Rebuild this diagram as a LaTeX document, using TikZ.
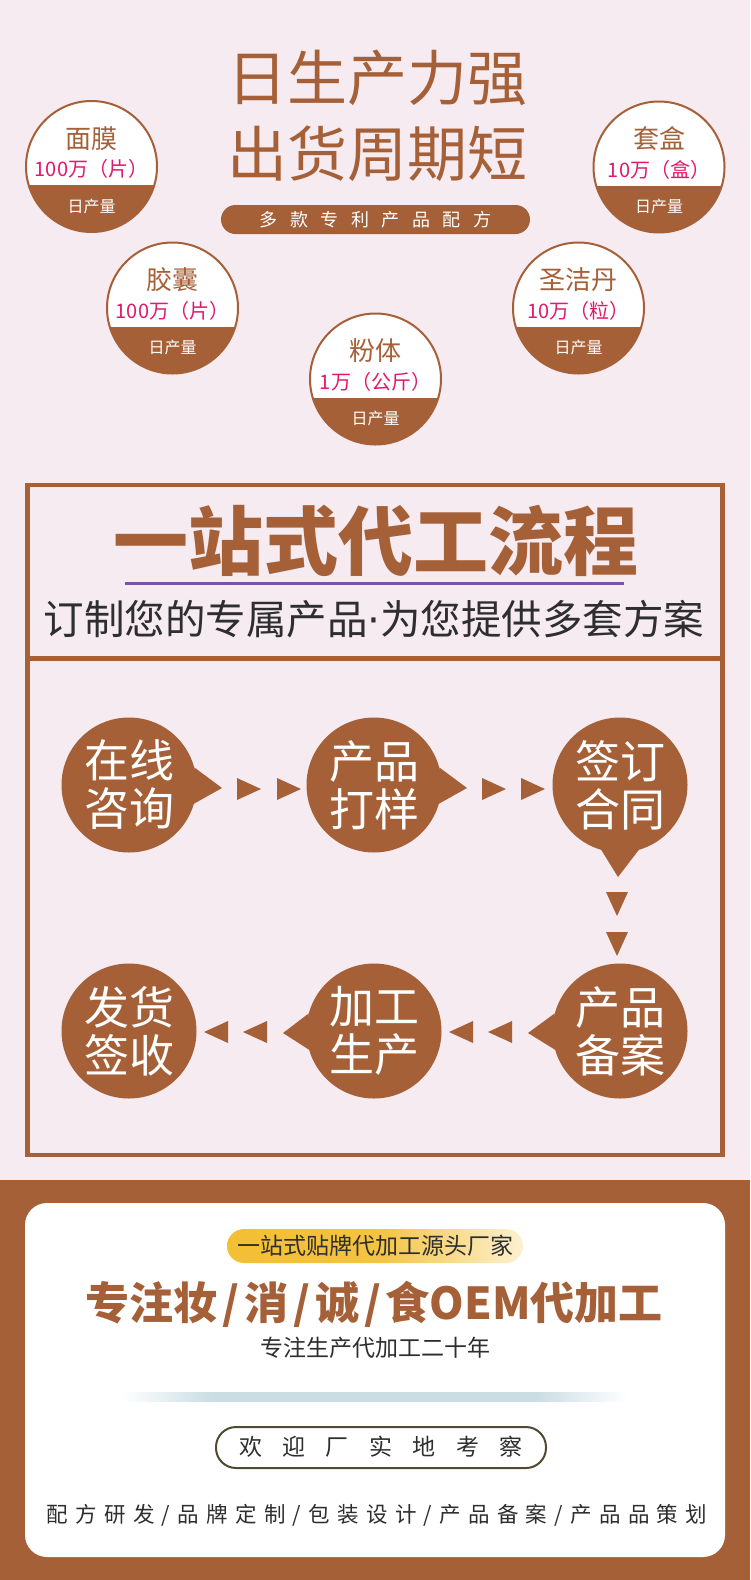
\documentclass[tikz,border=0pt]{standalone}
\usepackage{fontspec}
\setmainfont{Noto Sans CJK SC}
\newfontfamily\dejavu{DejaVu Sans}
\usetikzlibrary{calc}
\definecolor{bgpink}{HTML}{F6EBF1}
\definecolor{brn}{HTML}{A66038}
\definecolor{pnk}{HTML}{E2186C}
\definecolor{ink}{HTML}{2E2E2E}
\definecolor{purp}{HTML}{7C52A8}
\definecolor{olive}{HTML}{4F4B30}
\definecolor{gold}{HTML}{F3BF33}
\definecolor{paleg}{HTML}{FCF1D0}
\definecolor{mist}{HTML}{CADDE3}
\pgfdeclarehorizontalshading{mistline}{100bp}{color(0bp)=(white); color(25bp)=(white); color(34bp)=(mist); color(66bp)=(mist); color(75bp)=(white); color(100bp)=(white)}
\newcommand\setfs[1]{\fontsize{#1}{#1}\selectfont}
\newcommand\spaced[2]{\def\mysgap{#1}\spacedA#2\relax\relax}
\def\spacedA#1#2{#1\ifx\relax#2\else\hspace{\mysgap}\expandafter\spacedA\expandafter#2\fi}
\newcommand\prodcircle[5]{%
  \node[circle, minimum size=131pt, inner sep=0pt, fill=white] (#1) at (#2,#3) {};
  \begin{scope}
    \clip (#1.center) circle[radius=65.5pt];
    \fill[brn] ($(#1.center)+(-70,18.5)$) rectangle ($(#1.center)+(70,80)$);
  \end{scope}
  \draw[brn, line width=2pt] (#1.center) circle[radius=65.5pt];
  \node[text=brn, font=\setfs{26}] (#1-t) at ($(#1.center)+(0,-28)$) {#4};
  \node[text=pnk, font=\setfs{20}] (#1-a) at ($(#1.center)+(0,2.5)$) {#5};
  \node[text=white, font=\setfs{16}] (#1-d) at ($(#1.center)+(0,39.5)$) {日产量};
}
\newcommand\rtri[2]{\fill[brn] ($(#1,#2)+(-12,-11)$) -- ($(#1,#2)+(12,0)$) -- ($(#1,#2)+(-12,11)$) -- cycle;}
\newcommand\ltri[2]{\fill[brn] ($(#1,#2)+(12,-11)$) -- ($(#1,#2)+(-12,0)$) -- ($(#1,#2)+(12,11)$) -- cycle;}
\newcommand\dtri[2]{\fill[brn] ($(#1,#2)+(-11,-12)$) -- ($(#1,#2)+(0,12)$) -- ($(#1,#2)+(11,-12)$) -- cycle;}
\tikzset{
  proc/.style={circle, fill=brn, minimum size=135pt, inner sep=0pt, text=white, align=center, font=\fontsize{45}{48}\selectfont},
}
\begin{document}
\begin{tikzpicture}[x=1pt, y=-1pt]
\useasboundingbox (0,0) rectangle (750,1580);
\fill[bgpink] (0,0) rectangle (750,1580);

% --- top headline
\node[text=brn, font=\setfs{60}] (h1) at (377,78) {日生产力强};
\node[text=brn, font=\setfs{60}] (h2) at (377,154) {出货周期短};
\fill[brn, rounded corners=14.5pt] (221,205) rectangle (530,234);
\node[text=white, font=\setfs{18}] (pill) at (375.5,219.5) {\spaced{12.5pt}{多款专利产品配方}};

% --- product circles
\prodcircle{mm}{91.5}{166.5}{面膜}{100万（片）}
\prodcircle{th}{659}{167}{套盒}{10万（盒）}
\prodcircle{jn}{172.5}{308}{胶囊}{100万（片）}
\prodcircle{sj}{578.5}{308}{圣洁丹}{10万（粒）}
\prodcircle{ft}{375.5}{379}{粉体}{1万（公斤）}

% --- process frame
\draw[brn, line width=4.5pt] (27.5,485) rectangle (722.5,1155);
\draw[brn, line width=4.5pt] (27.5,658.5) -- (722.5,658.5);
\node[text=brn, font=\setfs{75}\bfseries] (pt) at (375.5,541) {一站式代工流程};
\draw[purp, line width=3pt] (125,583) -- (624,583);
\node[text=ink, font=\setfs{40.5}] (ps) at (374,619) {订制您的专属产品{\dejavu ·}为您提供多套方案};

% --- process steps
\node[proc] (c1) at (129,785) {在线\\咨询};
\node[proc] (c2) at (374,785) {产品\\打样};
\node[proc] (c3) at (620,785) {签订\\合同};
\node[proc] (c4) at (620,1031) {产品\\备案};
\node[proc] (c5) at (374,1031) {加工\\生产};
\node[proc] (c6) at (129,1031) {发货\\签收};

\fill[brn] (c1.15) -- ($(c1.center)+(93,3)$) -- (c1.-16) -- cycle;
\fill[brn] (c2.15) -- ($(c2.center)+(93,3)$) -- (c2.-16) -- cycle;
\fill[brn] (c3.-74) -- ($(c3.center)+(-2,92)$) -- (c3.-106) -- cycle;
\fill[brn] (c4.165) -- ($(c4.center)+(-92,2)$) -- (c4.196) -- cycle;
\fill[brn] (c5.165) -- ($(c5.center)+(-91,2)$) -- (c5.196) -- cycle;

\rtri{249}{789}\rtri{289}{789}
\rtri{494}{789}\rtri{533}{789}
\dtri{617}{904}\dtri{617}{944}
\ltri{500}{1032}\ltri{461}{1032}
\ltri{255}{1032}\ltri{216}{1032}

% --- bottom card
\fill[brn] (0,1180) rectangle (750,1580);
\fill[white, rounded corners=22pt] (25,1203) rectangle (725,1557);
\shade[rounded corners=17pt, left color=gold, right color=paleg, middle color=gold!92!paleg] (227,1229) rectangle (523,1263);
\node[text=ink, font=\setfs{23}] (yb) at (375,1246) {一站式贴牌代加工源头厂家};
\node[text=brn, font=\setfs{44}\bfseries] (big) at (374,1304) {专注妆\hspace{5pt}/\hspace{5pt}消\hspace{5pt}/\hspace{5pt}诚\hspace{5pt}/\hspace{5pt}食OEM代加工};
\node[text=ink, font=\setfs{23}] (yrs) at (375,1348) {专注生产代加工二十年};
\shade[shading=mistline] (122,1392) rectangle (627,1401);
\draw[olive, line width=2pt, rounded corners=20pt] (216,1427) rectangle (546,1468);
\node[text=ink, font=\setfs{23}] (wel) at (381,1447) {\spaced{20.5pt}{欢迎厂实地考察}};
\node[text=ink, font=\setfs{21.5}] (svc) at (377,1515) {\spaced{7.3pt}{配方研发/品牌定制/包装设计/产品备案/产品品策划}};
\end{tikzpicture}
\end{document}
